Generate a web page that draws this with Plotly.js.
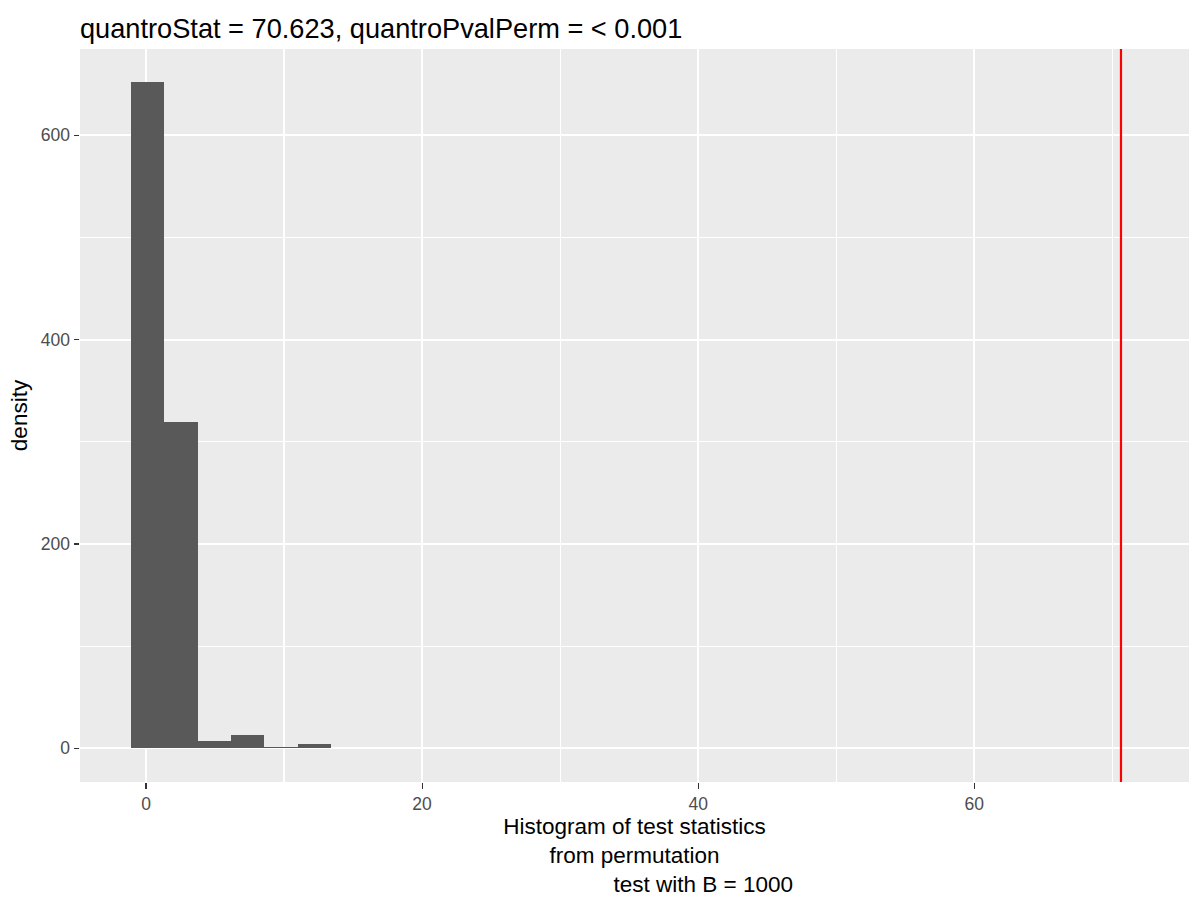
<!DOCTYPE html>
<html>
<head>
<meta charset="utf-8">
<script src="https://cdn.plot.ly/plotly-3.0.1.min.js"></script>
<style>
  html, body { margin: 0; padding: 0; background: #fff; }
  #hist { width: 1200px; height: 900px; }
</style>
</head>
<body>
<div id="hist"></div>
<script>
// permutation test statistics, binned
const binCenters = [0.12, 2.54, 4.95, 7.37, 9.79, 12.2];
const binDensity = [652, 319.6, 7, 13, 1.6, 4.2];
const binWidth = 2.417;
const quantroStat = 70.623;
const xTicks = [0, 20, 40, 60];
const yTicks = [0, 200, 400, 600];

const drawHistogram = () => {
    const pad = '\u00A0'.repeat(22);
    let data = [
        {
            x: binCenters,
            y: binDensity,
            width: binWidth,
            type: 'bar',
            marker: { color: '#595959', line: { width: 0 } },
            hoverinfo: 'x+y',
        }
    ];
    let layout = {
        width: 1200,
        height: 900,
        margin: { l: 80, r: 11.3, t: 48.7, b: 118 },
        paper_bgcolor: '#ffffff',
        plot_bgcolor: '#EBEBEB',
        font: { family: 'Liberation Sans, Arial, sans-serif', color: '#000000' },
        showlegend: false,
        bargap: 0,
        title: {
            text: 'quantroStat = ' + quantroStat + ', quantroPvalPerm = < 0.001',
            font: { size: 27.2, color: '#000000' },
            x: 80 / 1200, xref: 'container', xanchor: 'left',
            y: 1 - 38 / 900, yref: 'container', yanchor: 'bottom',
        },
        xaxis: {
            range: [-4.78, 75.55],
            tickvals: xTicks,
            ticktext: xTicks.map(String),
            ticks: 'outside', ticklen: 5.5, tickwidth: 1.1, tickcolor: '#333333',
            tickfont: { size: 17.5, color: '#4D4D4D' },
            showgrid: true, gridcolor: '#ffffff', gridwidth: 2.2,
            minor: { dtick: 10, tick0: 0, showgrid: true, gridcolor: '#ffffff', gridwidth: 1.1, ticks: '' },
            zeroline: false, showline: false,
            title: {
                text: 'Histogram of test statistics<br>from permutation<br>' + pad + 'test with B = 1000',
                font: { size: 22.5, color: '#000000' },
                standoff: 2,
            },
        },
        yaxis: {
            range: [-33, 684.5],
            tickvals: yTicks,
            ticktext: yTicks.map(String),
            ticks: 'outside', ticklen: 5.5, tickwidth: 1.1, tickcolor: '#333333',
            tickfont: { size: 17.5, color: '#4D4D4D' },
            showgrid: true, gridcolor: '#ffffff', gridwidth: 2.2,
            minor: { dtick: 100, tick0: 0, showgrid: true, gridcolor: '#ffffff', gridwidth: 1.1, ticks: '' },
            zeroline: false, showline: false,
            title: { text: 'density', font: { size: 22.5, color: '#000000' }, standoff: 6 },
        },
        shapes: [
            {
                type: 'line', xref: 'x', yref: 'paper',
                x0: quantroStat, x1: quantroStat, y0: 0, y1: 1,
                line: { color: '#FF0000', width: 2.2 },
            }
        ],
    };
    Plotly.newPlot('hist', data, layout, { displayModeBar: false, staticPlot: true });
}

drawHistogram();
</script>
</body>
</html>
